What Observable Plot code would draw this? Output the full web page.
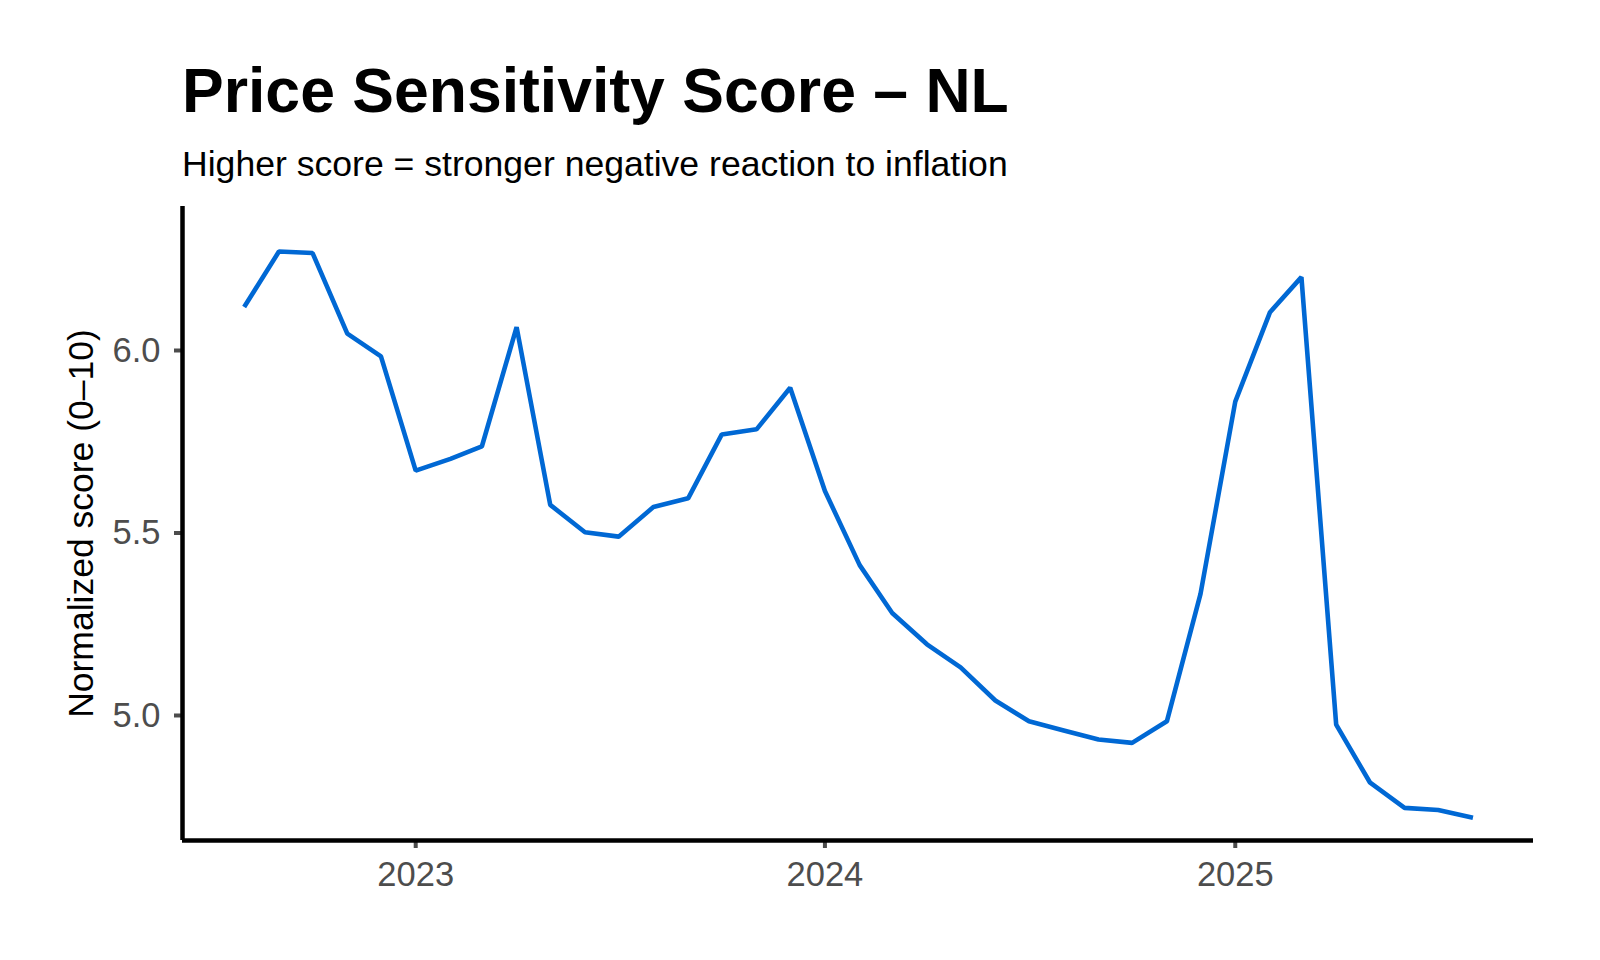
<!DOCTYPE html>
<html>
<head>
<meta charset="utf-8">
<script src="https://cdn.jsdelivr.net/npm/d3@7"></script>
<script src="https://cdn.jsdelivr.net/npm/@observablehq/plot@0.6"></script>
<style>
  html, body { margin: 0; padding: 0; background: #fff; }
  #wrap { position: relative; width: 1600px; height: 960px; overflow: hidden; font-family: "Liberation Sans", Arial, Helvetica, sans-serif; }
  #title { position: absolute; left: 182px; top: 59px; font-size: 62.5px; line-height: 62.5px; font-weight: bold; color: #000; white-space: nowrap; }
  #subtitle { position: absolute; left: 182px; top: 147px; font-size: 35.6px; line-height: 35.6px; color: #000; white-space: nowrap; }
  #chart { position: absolute; left: 0; top: 190px; }
  #chart svg { font-family: "Liberation Sans", Arial, Helvetica, sans-serif; }
</style>
</head>
<body>
<div id="wrap">
  <div id="title">Price Sensitivity Score – NL</div>
  <div id="subtitle">Higher score = stronger negative reaction to inflation</div>
  <div id="chart"></div>
</div>
<script>
const months = [
  "2022-08","2022-09","2022-10","2022-11","2022-12",
  "2023-01","2023-02","2023-03","2023-04","2023-05","2023-06",
  "2023-07","2023-08","2023-09","2023-10","2023-11","2023-12",
  "2024-01","2024-02","2024-03","2024-04","2024-05","2024-06",
  "2024-07","2024-08","2024-09","2024-10","2024-11","2024-12",
  "2025-01","2025-02","2025-03","2025-04","2025-05","2025-06",
  "2025-07","2025-08"
];
const scores = [
  6.119, 6.271, 6.267, 6.046, 5.984,
  5.671, 5.703, 5.737, 6.064, 5.577, 5.502,
  5.490, 5.571, 5.595, 5.770, 5.784, 5.898,
  5.615, 5.412, 5.281, 5.195, 5.132, 5.041,
  4.984, 4.959, 4.934, 4.925, 4.984, 5.333,
  5.860, 6.105, 6.201, 4.975, 4.817, 4.747,
  4.741, 4.720
];
const xTickLabels = ["2023", "2024", "2025"];
const yTicks = [5.0, 5.5, 6.0];
const xDomain = [new Date("2022-06-07"), new Date("2025-09-24")];
const yDomain = [4.6575, 6.3945];

const data = months.map((m, i) => ({date: new Date(m + "-01"), score: scores[i]}));
const xTicks = xTickLabels.map(y => new Date(y + "-01-01"));

const chart = Plot.plot({
  width: 1600,
  height: 770,
  marginTop: 16,
  marginBottom: 120,
  marginLeft: 182,
  marginRight: 67,
  style: {fontFamily: '"Liberation Sans", Arial, Helvetica, sans-serif', background: "#fff"},
  x: {type: "utc", domain: xDomain},
  y: {domain: yDomain},
  marks: [
    Plot.axisY({
      ticks: yTicks, tickFormat: d3.format(".1f"),
      tickSize: 8, tickPadding: 14, fontSize: 34.5,
      color: "#4D4D4D", strokeWidth: 4, label: null
    }),
    Plot.axisY({
      ticks: [], label: "Normalized score (0–10)",
      labelAnchor: "center", labelArrow: "none", labelOffset: 115,
      fontSize: 35.5, color: "#000"
    }),
    Plot.axisX({
      ticks: xTicks, tickFormat: d3.utcFormat("%Y"),
      tickSize: 8, tickPadding: 13, fontSize: 34.5,
      color: "#4D4D4D", strokeWidth: 4, label: null
    }),
    Plot.ruleX([xDomain[0]], {stroke: "#000", strokeWidth: 4.5}),
    Plot.ruleY([yDomain[0]], {stroke: "#000", strokeWidth: 4.5}),
    Plot.lineY(data, {x: "date", y: "score", stroke: "#0068d4", strokeWidth: 4.6, strokeLinejoin: "miter", strokeLinecap: "butt"})
  ]
});
document.getElementById("chart").appendChild(chart);
</script>
</body>
</html>
